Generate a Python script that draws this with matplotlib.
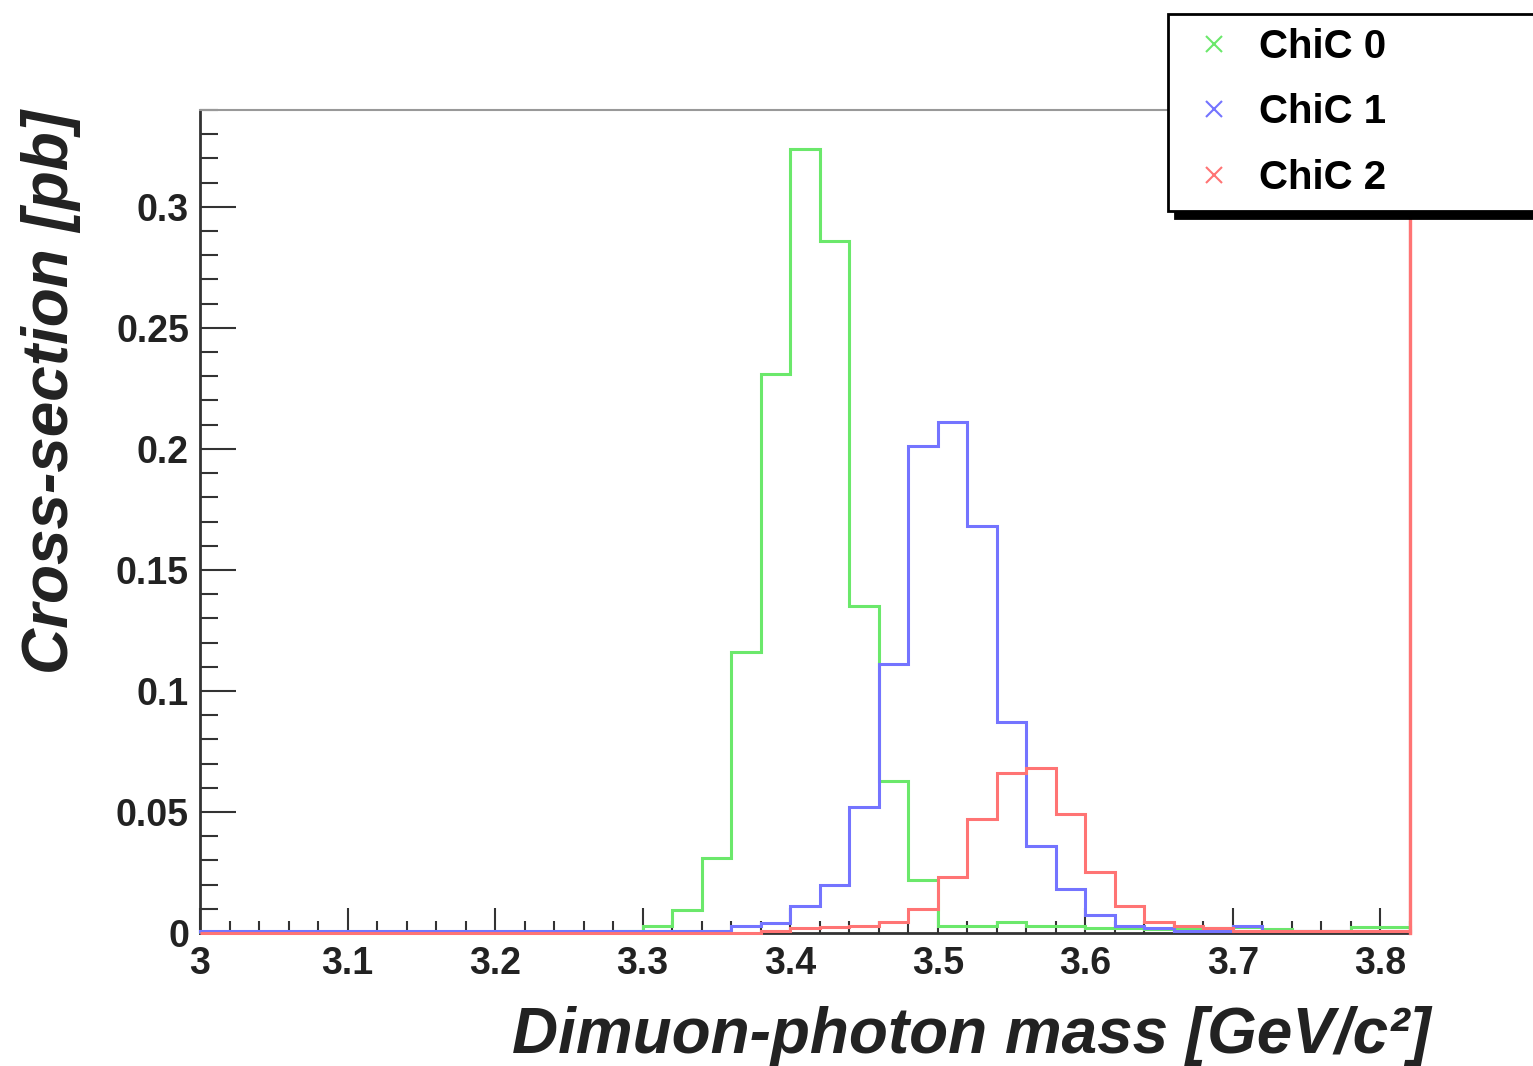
import numpy as np
import matplotlib.pyplot as plt
from matplotlib.ticker import MultipleLocator, FuncFormatter

# 41 bins of 0.02 GeV starting at 3.00
bin_start = 3.0
bin_width = 0.02

chic0 = [0.0005, 0.0005, 0.0005, 0.0005, 0.0005, 0.0005, 0.0005, 0.0005, 0.0005, 0.0005,
         0.0005, 0.0005, 0.0005, 0.0005, 0.0008, 0.003, 0.0095, 0.031, 0.116, 0.231,
         0.324, 0.286, 0.135, 0.063, 0.022, 0.003, 0.003, 0.0045, 0.003, 0.003,
         0.002, 0.002, 0.0015, 0.0015, 0.002, 0.0025, 0.0015, 0.001, 0.001, 0.0025,
         0.0025]
chic1 = [0.001, 0.001, 0.001, 0.001, 0.001, 0.001, 0.001, 0.001, 0.001, 0.001,
         0.001, 0.001, 0.001, 0.001, 0.001, 0.001, 0.001, 0.001, 0.003, 0.004,
         0.011, 0.020, 0.052, 0.111, 0.201, 0.211, 0.168, 0.087, 0.036, 0.018,
         0.0075, 0.003, 0.002, 0.001, 0.001, 0.003, 0.001, 0.001, 0.001, 0.001,
         0.001]
chic2 = [0.0, 0.0, 0.0, 0.0, 0.0, 0.0, 0.0, 0.0, 0.0, 0.0,
         0.0, 0.0, 0.0, 0.0, 0.0, 0.0, 0.0, 0.0, 0.0, 0.001,
         0.002, 0.0025, 0.003, 0.0045, 0.010, 0.023, 0.047, 0.066, 0.068, 0.049,
         0.025, 0.011, 0.0045, 0.003, 0.002, 0.001, 0.001, 0.001, 0.001, 0.001,
         0.001]

labels = ['ChiC 0', 'ChiC 1', 'ChiC 2']
colors = ['#6be86b', '#7474ff', '#ff7474']

edges = bin_start + bin_width * np.arange(len(chic0) + 1)

plt.rcParams['font.family'] = ['Liberation Sans', 'DejaVu Sans']

fig = plt.figure(figsize=(15.33, 10.66), dpi=100)
ax = fig.add_axes([200 / 1533, 1 - 933 / 1066, 1210 / 1533, 823 / 1066])

for vals, lab, col in zip([chic0, chic1, chic2], labels, colors):
    ax.stairs(vals, edges, color=col, lw=2.2, clip_on=False, zorder=3)
    ax.plot([], [], ls='none', marker='x', ms=12, mew=1.5, color=col, label=lab)
# red histogram runs off the top at the last edge
ax.axvline(edges[-1], color=colors[2], lw=2.4, zorder=3, clip_on=False)

ax.set_xlim(edges[0], edges[-1])
ax.set_ylim(0, 0.34)

ax.xaxis.set_major_locator(MultipleLocator(0.1))
ax.xaxis.set_minor_locator(MultipleLocator(0.02))
ax.yaxis.set_major_locator(MultipleLocator(0.05))
ax.yaxis.set_minor_locator(MultipleLocator(0.01))
fmt = FuncFormatter(lambda v, p: ('%g' % round(v, 3)))
ax.xaxis.set_major_formatter(fmt)
ax.yaxis.set_major_formatter(fmt)

ax.tick_params(which='both', direction='in', top=False, right=False, color='#333333')
ax.tick_params(axis='x', which='major', length=18, width=1.5, pad=9)
ax.tick_params(axis='x', which='minor', length=9, width=1.5)
ax.tick_params(axis='y', which='major', length=26, width=1.5, pad=8)
ax.tick_params(axis='y', which='minor', length=13, width=1.5)
for t in ax.get_xticklabels() + ax.get_yticklabels():
    t.set_fontsize(27)
    t.set_fontweight('bold')
    t.set_color('#222222')

for s in ['left', 'bottom']:
    ax.spines[s].set_color('#333333')
    ax.spines[s].set_linewidth(2)
for s in ['top', 'right']:
    ax.spines[s].set_color('#999999')
    ax.spines[s].set_linewidth(1.5)

ax.set_xlabel('Dimuon-photon mass [GeV/c²]', fontsize=46, fontweight='bold',
              fontstyle='italic', color='#222222', ha='right', x=1.017, labelpad=18)
ax.set_ylabel('Cross-section [pb]', fontsize=46, fontweight='bold',
              fontstyle='italic', color='#222222', ha='right', y=1.0, labelpad=25)

leg = ax.legend(loc='upper left', bbox_to_anchor=(1168 / 1533, 1 - 14 / 1066, 0.3, 0.0),
                bbox_transform=fig.transFigure, mode='expand', frameon=True,
                borderaxespad=0, fancybox=False,
                shadow={'ox': 5, 'oy': -5, 'color': 'black', 'alpha': 1},
                prop={'size': 29, 'weight': 'bold'}, handletextpad=0.3,
                labelspacing=0.68, borderpad=0.35, handlelength=1.6)
leg.get_frame().set_edgecolor('black')
leg.get_frame().set_linewidth(2)

fig.savefig('out.png', dpi=100)
